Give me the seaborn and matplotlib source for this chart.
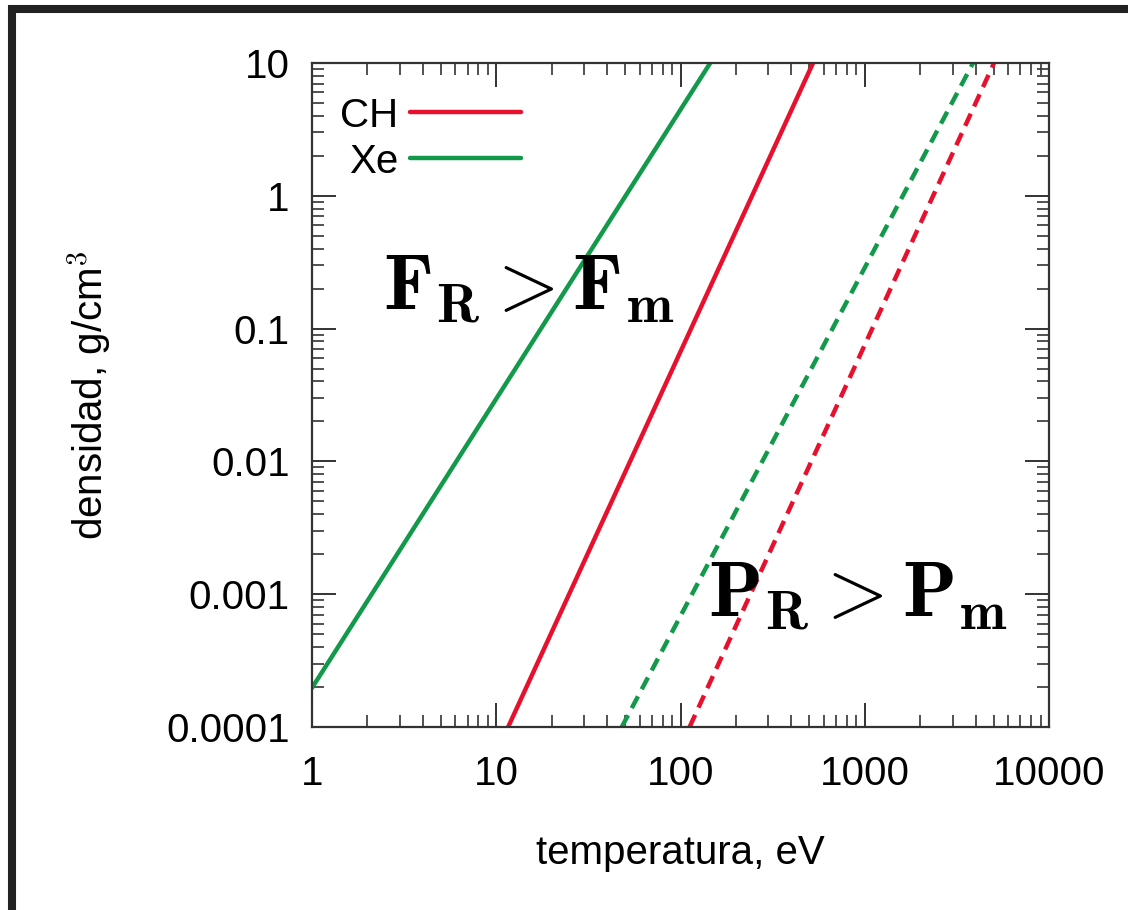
import numpy as np
import pandas as pd
import matplotlib
matplotlib.use("Agg")
import matplotlib.pyplot as plt
import seaborn as sns
from matplotlib.ticker import FixedLocator, FixedFormatter, LogLocator, NullFormatter
from matplotlib.patches import Rectangle

# ---- data (endpoints, straight lines on log-log axes) ----
ch_solid_T = [11.6, 524.0]
ch_solid_rho = [1e-4, 10.0]
xe_solid_T = [1.0, 145.0]
xe_solid_rho = [1.97e-4, 10.0]
xe_dash_T = [48.0, 3870.0]
xe_dash_rho = [1e-4, 10.0]
ch_dash_T = [112.0, 5030.0]
ch_dash_rho = [1e-4, 10.0]

x_ticks = [1, 10, 100, 1000, 10000]
x_ticklabels = ["1", "10", "100", "1000", "10000"]
y_ticks = [1e-4, 1e-3, 1e-2, 1e-1, 1, 10]
y_ticklabels = ["0.0001", "0.001", "0.01", "0.1", "1", "10"]

RED = "#e8112d"
GREEN = "#12994a"

sns.set_theme(style="ticks")
plt.rcParams["font.family"] = ["Liberation Sans", "DejaVu Sans"]
plt.rcParams["mathtext.fontset"] = "cm"
plt.rcParams["text.color"] = "black"
plt.rcParams["axes.labelcolor"] = "black"

fig = plt.figure(figsize=(11.28, 9.10), dpi=100)
ax = fig.add_axes([312 / 1128, 1 - 727 / 910, (1049 - 312) / 1128, (727 - 63) / 910])
ax.set_xscale("log")
ax.set_yscale("log")

def df(T, rho):
    return pd.DataFrame({"T": T, "rho": rho})

lw = 3.2
sns.lineplot(data=df(ch_solid_T, ch_solid_rho), x="T", y="rho", color=RED, lw=lw, ax=ax, label="CH")
sns.lineplot(data=df(xe_solid_T, xe_solid_rho), x="T", y="rho", color=GREEN, lw=lw, ax=ax, label="Xe")
sns.lineplot(data=df(xe_dash_T, xe_dash_rho), x="T", y="rho", color=GREEN, lw=lw, ax=ax)
sns.lineplot(data=df(ch_dash_T, ch_dash_rho), x="T", y="rho", color=RED, lw=lw, ax=ax)
for ln in ax.get_lines()[2:]:
    ln.set_dashes((3.0, 1.8))

ax.set_xlim(1, 10000)
ax.set_ylim(1e-4, 10)

ax.xaxis.set_major_locator(FixedLocator(x_ticks))
ax.xaxis.set_major_formatter(FixedFormatter(x_ticklabels))
ax.yaxis.set_major_locator(FixedLocator(y_ticks))
ax.yaxis.set_major_formatter(FixedFormatter(y_ticklabels))
ax.xaxis.set_minor_locator(LogLocator(base=10, subs=np.arange(2, 10), numticks=20))
ax.yaxis.set_minor_locator(LogLocator(base=10, subs=np.arange(2, 10), numticks=20))
ax.xaxis.set_minor_formatter(NullFormatter())
ax.yaxis.set_minor_formatter(NullFormatter())

for s in ax.spines.values():
    s.set_visible(True)
    s.set_linewidth(1.6)
    s.set_color("#333333")

ax.tick_params(which="both", direction="in", top=True, right=True, colors="#333333",
               labelcolor="black", labelsize=29)
ax.tick_params(which="major", length=17, width=1.4)
ax.tick_params(axis="x", which="major", pad=20)
ax.tick_params(axis="y", which="major", pad=16)
ax.tick_params(which="minor", length=8.5, width=1.2)

ax.set_xlabel("temperatura, eV", fontsize=29, labelpad=30)
ax.set_ylabel("densidad, g/cm$^3$", fontsize=29, labelpad=38)

leg = ax.legend(loc="upper left", bbox_to_anchor=(0.0, 0.992), frameon=False,
                markerfirst=False, fontsize=29, handlelength=2.75, handletextpad=0.3,
                labelspacing=0.2, borderpad=0.2)

ax.text(0.096, 0.628, r"$\mathbf{F_R > F_m}$", transform=ax.transAxes,
        fontsize=57, ha="left", va="baseline", color="black")
ax.text(0.537, 0.166, r"$\mathbf{P_R > P_m}$", transform=ax.transAxes,
        fontsize=57, ha="left", va="baseline", color="black")

# dark frame around the picture
fig.add_artist(Rectangle((12 / 1128, 1 - 913 / 910), 1.2, (913 - 9) / 910,
                         transform=fig.transFigure, fill=False, lw=5.8,
                         ec="#222222", clip_on=False))

fig.savefig("out.png", dpi=100)
